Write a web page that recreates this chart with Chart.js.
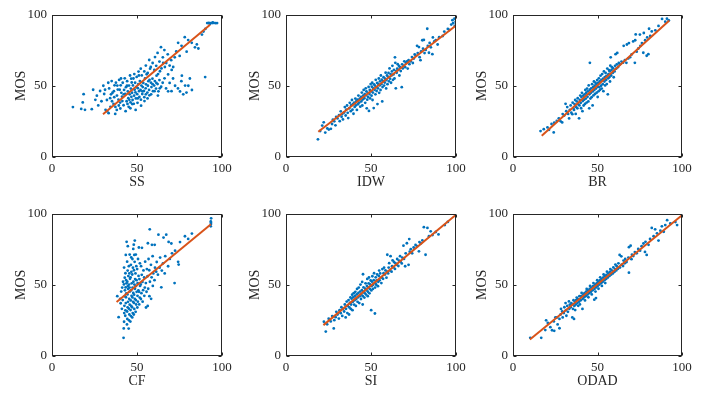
<!DOCTYPE html>
<html><head><meta charset="utf-8">
<script src="https://cdn.jsdelivr.net/npm/chart.js@4.4.1/dist/chart.umd.min.js"></script>
<style>
html,body{margin:0;padding:0;background:#fff}
body{width:704px;height:399px;overflow:hidden;position:relative}
canvas{position:absolute}
</style>
</head><body>
<script>
// ---------- data ----------
const tickValues = [0, 50, 100];
const yTitle = 'MOS';
const panelNames = ['SS', 'IDW', 'BR', 'CF', 'SI', 'ODAD'];

const ssPts = [[12.3,35.1],[17.2,33.8],[18.1,38.4],[18.6,44.2],[19.4,33.2],[23.4,33.6],[24.2,47.3],[25.5,40.2],[26.4,43.1],[27.2,36.3],[28.3,46.4],[29.1,39.2],[30.2,50.1],[30.7,44.3],[31.5,33.2],[32.4,32.1],[33.3,30.8],[33.6,48.2],[34.2,41.4],[35.1,53.4],[35.6,45.2],[36.2,37.3],[36.8,50.4],[37.3,35.2],[37.6,52.3],[38.2,43.2],[38.7,47.4],[39.1,40.3],[39.5,54.2],[40.1,38.3],[40.4,50.4],[40.8,45.1],
[41.2,42.4],[41.6,52.2],[42.1,36.4],[42.4,47.2],[42.8,55.3],[43.1,44.4],[43.5,49.1],[43.9,39.2],[44.2,53.3],[44.6,46.1],[44.9,41.4],[45.1,35.3],[45.3,50.2],[45.7,44.1],[45.9,57.3],[46.2,38.4],[46.4,48.1],[46.7,42.3],[46.9,52.4],[47.1,45.2],[47.4,40.1],[47.6,50.3],[47.9,55.2],[48.1,37.4],[48.3,43.1],[48.6,47.3],[48.9,52.2],[49.1,45.4],[49.3,41.2],[49.6,49.1],[49.8,56.3],[50.1,44.2],[50.3,38.1],[50.5,48.4],[50.8,51.2],[50.9,60.1],[51.2,46.3],[51.4,42.2],[51.7,53.4],[52.1,47.1],[52.3,40.3],[52.6,50.2],[52.8,57.4],[53.1,44.3],[53.4,49.2],[53.7,52.1],[54.1,46.4],[54.3,42.1],[54.7,55.2],[55.1,48.3],[55.3,51.1],[55.7,58.2],[56.1,45.3],[56.4,50.1],[56.7,53.3],[57.1,47.2],[57.3,43.4],[57.7,62.1],[58.2,52.3],[58.5,49.2],[59.1,55.1],[59.4,46.3],[60.1,50.2],[60.5,53.4],[61.2,48.1],[61.5,57.2],[62.1,51.3],[62.6,46.2],[63.2,54.1],[63.5,60.3],[64.2,49.4],[65.1,52.2],[65.4,66.1],[66.2,55.3],[67.1,48.2],[68.3,58.1],
[31.2,47.3],[32.3,40.1],[33.1,52.2],[34.4,35.3],[34.7,44.1],[35.3,39.2],[36.4,46.3],[36.6,42.1],[37.2,30.3],[38.4,50.2],[38.1,33.1],[39.3,36.2],[39.8,47.3],[40.2,34.1],[40.6,55.2],[41.4,39.3],[42.2,44.1],[43.3,32.2],[44.4,37.3],[44.1,50.1],[45.5,40.2],[46.1,34.3],[46.6,55.1],[47.2,37.2],[48.4,58.3],[49.2,33.1],[50.4,41.2],[51.1,57.3],[52.4,36.1],[53.2,46.2],[54.4,39.3],[55.2,44.1],[56.2,41.2],[57.4,54.3],[58.3,44.1],[59.2,51.2],[60.3,46.3],[61.4,52.1],[62.3,43.2],[63.4,48.3],
[52.2,62.1],[54.3,60.2],[55.2,64.3],[56.3,59.1],[57.2,68.2],[58.1,63.3],[59.2,66.1],[60.2,61.2],[60.6,70.3],[61.3,64.1],[62.1,73.2],[62.4,58.3],[63.2,67.1],[64.1,77.2],[64.4,62.3],[65.2,70.1],[66.1,75.2],[66.4,63.3],[67.2,66.1],[68.1,72.2],[69.2,64.3],[70.1,68.1],[70.4,61.2],[71.3,63.3],[72.2,70.1],[73.1,74.2],[74.2,80.3],[75.1,71.1],[76.2,78.2],[78.1,84.3],[79.2,74.1],[80.1,82.2],[82.2,80.3],[84.1,77.1],[85.2,79.2],[86.1,76.3],[88.2,86.1],[89.1,88.2],[90.2,90.1],
[68.3,46.2],[69.2,52.1],[70.3,46.3],[71.2,55.2],[72.4,50.1],[74.1,48.2],[75.3,46.1],[76.1,53.3],[76.4,57.2],[77.2,44.1],[78.3,50.2],[79.1,45.3],[80.2,50.1],[81.1,55.2],[82.3,47.1],[90.1,56.2],
[91.3,94.2],[92.2,94.3],[93.1,94.1],[94.2,94.2],[95.1,94.3],[96.2,94.1],[97.1,94.2],[92.8,93.6],[94.5,94.7]];

const idwPts = [[18.8,12.4],[20.1,18.3],[21.3,22.1],[22.2,24.4],[23.1,17.2],[24.3,20.1],[25.2,19.3],[26.4,19.8],[27.1,23.2],[27.6,26.3],[28.4,25.1],[29.1,22.3],[29.5,28.2],[30.3,27.1],[31.2,29.4],[31.6,25.2],[32.2,32.1],[32.7,28.3],[33.1,30.2],[33.5,26.4],[34.2,31.3],[34.6,35.1],[35.1,29.2],[35.4,33.3],[35.9,36.2],[36.3,31.1],[36.6,27.4],[37.2,34.3],[37.5,38.1],[38.1,32.2],[38.4,36.4],[38.8,40.1],[39.1,33.3],[39.4,37.2],[39.7,30.4],[40.1,38.3],[40.4,35.2],[40.8,41.1],[41.1,36.3],[41.4,39.2],[41.7,33.1],[42.1,40.4],[42.3,37.1],[42.6,43.2],[43.1,38.3],[43.4,41.1],[43.7,35.4],[44.1,42.2],[44.3,39.1],[44.6,45.3],[44.9,36.2],[45.1,40.4],[45.4,43.1],[45.7,47.2],[46.1,41.3],[46.3,44.2],[46.6,38.1],[46.9,48.3],[47.1,43.4],[47.3,46.1],[47.5,34.2],[47.8,40.3],[48.1,45.1],[48.3,42.2],[48.6,49.3],[48.8,32.4],[49.1,44.3],[49.3,47.1],[49.5,41.2],[49.8,51.3],[50.1,46.2],[50.3,43.1],[50.5,49.4],[50.7,52.2],[50.9,40.1],[51.1,45.3],[51.4,48.2],[51.6,34.4],[51.8,51.1],[52.1,47.3],[52.3,50.2],[52.6,44.1],[52.8,54.3],[53.1,49.2],[53.3,46.4],[53.6,52.1],[53.8,37.2],[54.1,48.3],[54.3,51.4],[54.6,55.2],[54.8,45.1],[55.1,50.3],[55.3,53.2],[55.6,47.1],[55.8,57.3],[56.1,51.2],[56.3,54.4],[56.6,39.1],[56.8,49.2],[57.1,53.3],[57.4,56.1],[57.7,50.2],[58.1,52.4],[58.3,55.1],[58.6,59.3],[58.9,48.2],[59.1,54.1],[59.4,57.3],[59.7,51.2],[60.1,56.4],[60.3,59.1],[60.6,53.2],[60.9,62.3],[61.2,55.1],[61.5,58.3],[61.8,52.2],[62.1,57.4],[62.3,60.2],[62.6,64.1],[62.9,54.3],[63.2,58.1],[63.5,61.3],[63.8,55.2],[64.1,70.1],[64.3,66.2],[64.6,48.3],[64.8,60.4],[65.1,59.2],[65.4,62.1],[65.7,65.3],[66.1,61.2],[66.4,64.1],[66.7,57.3],[67.1,63.2],[67.5,60.4],[68.1,49.1],[68.3,65.2],[68.7,62.3],[69.2,64.1],[69.6,67.3],[70.1,63.2],[70.5,66.1],[71.2,67.3],[71.6,62.2],[72.1,68.1],[72.6,65.3],[73.3,67.2],[74.1,70.3],[74.6,66.1],[75.2,69.2],[75.7,72.1],[76.3,71.3],[77.1,78.2],[77.5,73.1],[78.2,77.3],[78.6,70.2],[79.1,68.1],[79.5,74.3],[80.2,82.1],[80.6,76.2],[81.1,82.3],[81.5,73.1],[82.2,75.3],[83.1,90.2],[83.4,78.1],[84.1,73.3],[84.5,80.2],[85.2,77.1],[86.1,72.3],[86.4,84.1],[87.2,81.3],[88.1,82.2],[89.2,79.1],[90.1,84.3],[92.2,85.1],[93.1,88.2],[95.2,90.1],[96.1,89.3],[97.2,93.1],[97.9,96.2],[98.3,94.1],[99.1,97.3],[99.3,92.2],[99.8,95.1]];

const brPts = [[16.3,18.2],[18.2,19.6],[20.4,20.8],[21.3,19.1],[22.8,23.2],[24.1,17.3],[24.4,24.1],[25.9,25.3],[27.1,27.2],[28.2,25.1],[29.1,24.3],[29.4,30.2],[30.3,29.1],[31.1,37.4],[31.5,32.2],[32.1,35.1],[32.6,30.3],[33.2,27.1],[33.6,33.2],[34.1,36.3],[34.5,31.2],[35.1,30.1],[35.3,38.2],[35.7,34.3],[36.1,33.1],[36.4,37.2],[36.8,40.1],[37.1,30.3],[37.4,35.2],[37.7,39.1],[38.1,34.2],[38.3,41.3],[38.6,37.1],[39.1,27.2],[39.3,36.3],[39.5,40.1],[39.8,43.2],[40.1,38.1],[40.3,34.3],[40.5,42.2],[40.8,45.1],[41.1,32.2],[41.3,39.3],[41.6,43.1],[41.8,36.2],[42.1,40.3],[42.3,44.1],[42.6,37.3],[42.8,47.2],[43.1,41.1],[43.3,45.2],[43.6,38.3],[43.8,48.1],[44.1,42.3],[44.3,46.2],[44.6,39.1],[44.8,50.3],[45.1,34.2],[45.2,44.1],[45.4,47.3],[45.5,66.2],[45.8,41.1],[46.1,45.2],[46.3,48.3],[46.5,42.1],[46.8,51.2],[47.1,36.3],[47.2,46.1],[47.4,49.2],[47.6,43.3],[47.9,53.1],[48.1,47.2],[48.3,50.1],[48.5,44.3],[48.8,52.2],[49.1,48.1],[49.3,51.3],[49.5,45.2],[49.8,54.1],[50.1,42.2],[50.2,49.3],[50.4,52.1],[50.6,46.2],[50.8,55.3],[51.1,49.2],[51.3,53.1],[51.5,47.3],[51.8,57.2],[52.1,50.1],[52.3,54.2],[52.5,48.1],[52.8,58.3],[53.1,51.2],[53.3,55.1],[53.5,46.3],[53.8,60.2],[54.1,53.1],[54.3,56.2],[54.5,50.3],[54.8,59.1],[55.1,54.2],[55.3,57.1],[55.5,51.3],[55.8,62.2],[56.1,44.1],[56.3,55.3],[56.5,58.2],[56.8,61.1],[57.1,56.2],[57.2,60.3],[57.4,53.1],[57.6,64.2],[57.8,70.1],[58.1,57.3],[58.3,61.2],[58.6,63.1],[59.1,59.2],[59.3,62.3],[59.6,56.1],[60.1,60.2],[60.4,64.1],[60.7,72.3],[61.1,62.2],[61.4,65.1],[61.7,73.2],[62.2,63.3],[62.6,66.1],[63.3,65.2],[64.2,67.1],[65.1,66.3],[65.5,78.2],[66.2,68.1],[67.1,66.2],[67.4,79.1],[68.2,69.3],[68.6,80.1],[69.3,70.2],[70.2,72.1],[71.1,81.3],[72.1,66.2],[72.3,82.1],[72.6,86.2],[73.2,74.1],[74.2,76.3],[75.1,86.1],[75.4,78.2],[76.3,80.1],[77.1,73.3],[77.4,87.2],[78.2,82.1],[79.1,71.2],[79.4,84.1],[80.1,72.3],[80.5,90.2],[81.2,85.1],[82.1,88.3],[84.2,89.1],[86.1,92.2],[88.2,97.1],[90.1,95.2],[91.1,97.3],[92.2,96.1]];

const cfPts = [[38.4,42.1],[39.2,27.3],[40.1,40.2],[40.4,37.1],[40.7,45.3],[41.1,33.2],[41.3,48.1],[41.6,39.3],[41.8,52.2],[42.1,12.8],[42.2,19.4],[42.4,24.1],[42.5,30.2],[42.6,35.3],[42.7,42.1],[42.9,46.2],[42.3,50.3],[42.8,55.1],[42.4,62.2],[43.1,28.3],[43.2,32.1],[43.4,37.2],[43.5,41.3],[43.7,44.1],[43.3,48.2],[43.8,51.1],[43.6,53.3],[43.2,58.2],[43.4,71.1],[43.9,80.3],[44.1,22.2],[44.3,26.1],[44.2,31.3],[44.5,34.2],[44.7,38.1],[44.4,43.3],[44.8,47.2],[44.6,49.1],[44.3,52.3],[44.9,56.2],[44.5,60.1],[44.2,66.3],[44.6,77.2],[45.1,19.3],[45.3,25.1],[45.5,29.2],[45.2,33.3],[45.7,36.1],[45.4,40.2],[45.8,45.3],[45.6,48.1],[45.3,50.2],[45.9,54.3],[45.5,58.1],[45.2,63.2],[45.7,71.3],[46.1,24.2],[46.4,28.1],[46.2,32.3],[46.6,35.2],[46.3,39.1],[46.8,42.3],[46.5,46.2],[46.9,51.1],[46.2,55.3],[46.7,59.2],[46.4,64.1],[46.6,69.3],[47.2,27.1],[47.5,30.2],[47.1,34.3],[47.7,38.1],[47.3,41.2],[47.8,44.3],[47.4,48.1],[47.9,52.2],[47.2,57.3],[47.6,62.1],[47.3,68.2],[47.8,75.3],[48.1,29.2],[48.4,33.1],[48.2,37.3],[48.7,40.2],[48.3,43.1],[48.8,47.3],[48.5,50.2],[48.9,54.1],[48.2,60.3],[48.6,66.2],[48.4,71.1],[48.1,78.3],[48.7,81.2],[49.2,31.1],[49.5,36.2],[49.3,39.3],[49.8,45.1],[49.4,49.2],[49.7,53.3],[49.1,58.1],[49.6,63.2],[49.3,71.3],[50.2,34.1],[50.5,38.2],[50.3,42.3],[50.8,46.1],[50.4,51.2],[50.9,56.3],[50.1,61.1],[50.6,68.2],[51.3,36.3],[51.6,41.1],[51.2,45.2],[51.8,49.3],[51.4,54.1],[51.7,65.2],[51.1,76.3],[52.3,40.1],[52.6,44.2],[52.2,50.3],[52.8,57.1],[52.4,63.2],[52.9,76.1],[53.3,38.2],[53.6,46.3],[53.2,52.1],[53.8,60.2],[54.3,42.3],[54.6,48.1],[54.2,55.2],[54.8,66.3],[55.3,34.1],[55.6,45.2],[55.2,51.3],[55.8,61.1],[56.3,35.2],[56.6,47.3],[56.2,56.1],[56.8,68.2],[56.4,79.3],[57.3,42.1],[57.6,52.2],[57.2,60.3],[57.5,89.1],[58.3,40.2],[58.6,55.3],[58.2,64.1],[58.8,78.2],[59.3,49.3],[59.6,58.1],[59.2,70.2],[60.3,53.3],[60.6,62.1],[60.4,78.2],[61.3,59.3],[61.6,66.1],[62.3,57.2],[62.6,85.3],[63.3,62.1],[63.6,69.2],[64.3,48.3],[64.6,60.1],[65.3,65.2],[65.6,83.3],[66.3,58.1],[66.6,70.2],[67.2,85.3],[68.3,63.1],[68.6,80.2],[69.3,68.3],[70.2,79.1],[70.6,72.2],[72.1,51.3],[72.4,74.1],[74.2,66.2],[74.5,64.3],[75.3,80.1],[78.2,84.2],[80.1,82.3],[82.3,86.1],[93.4,91.2],[93.5,92.8],[93.4,94.6],[93.6,96.8],[93.5,93.7]];

const siPts = [[22.3,24.1],[23.4,17.2],[24.2,22.3],[25.1,26.2],[26.3,24.3],[27.2,28.1],[28.1,19.4],[28.4,25.2],[29.2,27.3],[29.6,31.1],[30.3,29.2],[31.1,26.3],[31.5,32.2],[32.2,30.1],[32.6,34.3],[33.1,28.2],[33.5,33.1],[34.2,31.3],[34.6,36.2],[35.1,27.1],[35.3,33.2],[35.7,38.3],[36.1,30.2],[36.4,35.1],[36.8,39.3],[37.1,29.2],[37.3,34.1],[37.6,37.3],[37.9,41.2],[38.1,33.1],[38.3,36.2],[38.6,40.3],[38.9,43.1],[39.1,32.2],[39.3,38.1],[39.6,41.3],[39.8,44.2],[40.1,36.1],[40.3,39.2],[40.6,42.3],[40.8,45.1],[41.1,35.2],[41.3,40.1],[41.6,43.3],[41.8,47.2],[42.1,38.1],[42.3,41.2],[42.6,44.3],[42.8,48.1],[43.1,37.2],[43.3,42.1],[43.6,45.3],[43.8,50.2],[44.1,40.1],[44.3,43.2],[44.6,46.3],[44.8,52.1],[45.1,36.2],[45.2,42.1],[45.4,45.3],[45.6,48.2],[45.3,57.5],[46.1,41.1],[46.3,44.2],[46.6,47.3],[46.8,51.1],[47.1,43.2],[47.3,46.1],[47.6,49.3],[47.8,54.2],[48.1,42.1],[48.2,45.2],[48.4,48.3],[48.6,51.1],[48.8,55.2],[49.1,44.1],[49.3,47.2],[49.5,50.3],[49.8,53.1],[50.1,32.2],[50.2,46.1],[50.4,49.2],[50.6,52.3],[50.8,56.1],[51.1,47.2],[51.3,50.1],[51.6,53.3],[51.8,58.2],[52.3,29.9],[52.4,48.1],[52.6,51.2],[52.8,55.3],[53.1,50.1],[53.3,53.2],[53.6,57.3],[54.1,49.1],[54.3,52.2],[54.6,56.3],[54.8,60.1],[55.1,53.2],[55.4,58.1],[56.1,51.3],[56.4,55.2],[56.7,61.1],[57.1,54.3],[57.4,58.2],[57.7,62.1],[58.2,57.3],[58.5,60.2],[59.1,55.1],[59.4,59.3],[59.6,71.2],[60.1,58.1],[60.4,62.2],[60.7,65.3],[61.2,60.1],[61.5,70.2],[62.1,59.3],[62.4,63.1],[62.7,67.2],[63.2,62.3],[63.5,66.1],[64.1,61.2],[64.4,65.3],[65.1,64.1],[65.4,68.2],[66.1,63.3],[66.4,67.1],[67.1,70.2],[67.4,66.3],[68.1,65.1],[68.4,69.2],[69.1,77.6],[69.4,68.3],[70.1,63.1],[70.4,72.2],[71.1,79.3],[72.1,64.1],[72.5,82.2],[72.8,73.3],[73.4,75.1],[74.2,72.2],[75.1,76.3],[76.2,78.1],[77.1,77.2],[78.2,73.6],[78.5,80.1],[79.3,79.2],[80.2,81.3],[81.1,90.6],[82.1,71.2],[83.2,90.1],[84.1,84.2],[85.1,87.7],[86.2,85.1],[88.1,87.2],[89.7,85.5],[93.4,92.1],[95.2,94.3]];

const odadPts = [[10.2,12.8],[16.7,12.8],[19.1,18.2],[19.6,25.1],[20.6,23.2],[22.1,20.3],[23.1,18.1],[24.4,17.7],[24.2,24.3],[25.1,27.2],[26.1,27.1],[26.4,22.2],[27.5,26.1],[27.5,19.5],[28.4,33.1],[28.2,29.2],[29.1,31.3],[29.4,27.1],[30.1,30.2],[30.4,34.3],[31.1,37.2],[31.3,32.1],[31.6,28.3],[32.1,35.2],[32.5,31.1],[33.1,38.4],[33.3,33.2],[33.6,36.1],[34.1,34.3],[34.5,37.2],[35.1,27.1],[35.2,36.3],[35.5,33.1],[35.8,39.2],[36.1,26.1],[36.3,35.2],[36.6,38.1],[36.8,32.3],[37.1,36.2],[37.4,39.3],[37.7,41.1],[38.1,37.2],[38.3,40.1],[38.6,35.3],[39.1,38.2],[39.3,42.1],[39.6,36.3],[40.1,39.2],[40.3,42.1],[40.6,44.3],[41.1,33.1],[41.3,40.2],[41.6,43.1],[42.1,41.3],[42.3,44.2],[42.6,39.1],[43.1,42.2],[43.3,45.3],[43.6,47.1],[44.1,43.2],[44.3,46.1],[44.6,41.3],[45.1,44.2],[45.3,47.1],[45.6,49.3],[46.1,45.2],[46.3,48.1],[46.6,43.3],[47.1,46.2],[47.3,49.1],[47.6,51.3],[48.1,39.6],[48.2,47.2],[48.5,50.1],[48.8,45.3],[49.1,40.7],[49.2,48.2],[49.5,51.1],[49.8,53.3],[50.1,49.2],[50.3,52.1],[50.6,47.3],[51.1,50.2],[51.3,53.1],[51.6,55.3],[52.1,51.2],[52.3,54.1],[52.6,49.3],[53.1,52.2],[53.3,55.1],[53.6,57.3],[54.1,53.2],[54.3,56.1],[54.6,51.3],[55.1,54.2],[55.3,57.1],[55.6,59.3],[56.1,55.2],[56.4,58.1],[57.1,56.3],[57.3,59.2],[57.6,61.1],[58.1,57.3],[58.4,60.2],[59.1,58.1],[59.4,62.3],[60.1,59.2],[60.3,61.1],[60.6,64.3],[61.1,60.2],[61.4,63.1],[62.1,61.3],[62.4,65.2],[63.1,71.1],[63.3,62.2],[64.1,70.1],[64.3,64.2],[65.1,63.3],[65.4,67.1],[66.1,65.2],[66.4,68.3],[67.2,66.1],[68.6,76.5],[68.3,69.2],[69.6,77.6],[68.6,58.6],[70.1,68.1],[70.4,71.2],[71.2,70.3],[72.1,73.1],[73.2,72.2],[74.1,75.3],[75.2,74.1],[76.1,77.2],[77.2,79.1],[78.1,73.2],[78.4,80.3],[79.1,71.1],[80.2,78.2],[81.1,82.3],[82.1,90.1],[83.2,84.2],[84.1,89.1],[85.2,86.3],[86.1,81.2],[87.2,88.1],[88.1,91.2],[89.2,87.3],[90.1,92.1],[91.2,95.5],[93.1,93.2],[96.1,94.2],[97.1,92.1]];

const ssFit = [[30,30],[93,93]];
const idwFit = [[19,17.7],[100,92.5]];
const brFit = [[17,15],[92.5,96]];
const cfFit = [[38,38],[93.5,92.6]];
const siFit = [[22,21.7],[100,99.3]];
const odadFit = [[10,11.6],[100,99]];

const panelPoints = [ssPts, idwPts, brPts, cfPts, siPts, odadPts];
const panelFits = [ssFit, idwFit, brFit, cfFit, siFit, odadFit];

// ---------- layout / style ----------
const plotAreas = [[52,10,222,157],[286,10,456,157],[513,10,682,157],[52,209,222,356],[286,209,456,356],[513,209,682,356]];
const AX_W = 50, AX_H = 40, PAD_T = 8, PAD_R = 14;
const FONT = '"Liberation Serif", "Times New Roman", serif';
const TXT = '#262626';
const DOT = '#0072BD';
const FIT = '#D95319';

const framePlugin = {
  id: 'frame',
  afterDatasetsDraw(chart) {
    const {ctx, chartArea: a, scales: {x, y}} = chart;
    ctx.save();
    ctx.strokeStyle = TXT;
    ctx.lineWidth = 1;
    const L = Math.round(a.left) + 0.5, R = Math.round(a.right) - 0.5;
    const T = Math.round(a.top) + 0.5, B = Math.round(a.bottom) - 0.5;
    ctx.strokeRect(L, T, R - L, B - T);
    ctx.beginPath();
    const tl = 3;
    tickValues.forEach(v => {
      const px = Math.round(x.getPixelForValue(v)) + 0.5;
      ctx.moveTo(px, B); ctx.lineTo(px, B - tl);
      ctx.moveTo(px, T); ctx.lineTo(px, T + tl);
      const py = Math.round(y.getPixelForValue(v)) + 0.5;
      ctx.moveTo(L, py); ctx.lineTo(L + tl, py);
      ctx.moveTo(R, py); ctx.lineTo(R - tl, py);
    });
    ctx.stroke();
    ctx.restore();
  }
};

function toXY(arr) { return arr.map(p => ({x: p[0], y: p[1]})); }

panelNames.forEach((name, i) => {
  const [l, t, r, b] = plotAreas[i];
  const cv = document.createElement('canvas');
  const w = (r - l) + AX_W + PAD_R;
  const h = (b - t) + PAD_T + AX_H;
  cv.width = w; cv.height = h;
  cv.style.left = (l - AX_W) + 'px';
  cv.style.top = (t - PAD_T) + 'px';
  cv.style.width = w + 'px';
  cv.style.height = h + 'px';
  document.body.appendChild(cv);

  const setTicks = s => { s.ticks = tickValues.map(v => ({value: v})); };

  new Chart(cv, {
    type: 'scatter',
    data: {
      datasets: [
        {
          data: toXY(panelFits[i]),
          showLine: true,
          borderColor: FIT,
          borderWidth: 2,
          pointRadius: 0,
          fill: false
        },
        {
          data: toXY(panelPoints[i]),
          backgroundColor: DOT,
          borderWidth: 0,
          pointRadius: 1.4,
          pointHoverRadius: 1.4
        }
      ]
    },
    options: {
      responsive: false,
      animation: false,
      devicePixelRatio: 1,
      events: [],
      layout: { padding: { left: 0, top: PAD_T, right: PAD_R, bottom: 0 } },
      plugins: { legend: { display: false }, tooltip: { enabled: false } },
      scales: {
        x: {
          type: 'linear', min: 0, max: 100,
          afterBuildTicks: setTicks,
          afterFit: s => { s.height = AX_H; },
          grid: { display: false, drawTicks: false },
          border: { display: false },
          ticks: { autoSkip: false, maxRotation: 0, padding: 4, color: TXT, font: { family: FONT, size: 13 } },
          title: { display: true, text: name, color: TXT, font: { family: FONT, size: 14 }, padding: { top: 0, bottom: 6 } }
        },
        y: {
          type: 'linear', min: 0, max: 100,
          afterBuildTicks: setTicks,
          afterFit: s => { s.width = AX_W; },
          grid: { display: false, drawTicks: false },
          border: { display: false },
          ticks: { autoSkip: false, padding: 5, color: TXT, font: { family: FONT, size: 13 } },
          title: { display: true, text: yTitle, color: TXT, font: { family: FONT, size: 14 }, padding: { top: 11, bottom: 0 } }
        }
      }
    },
    plugins: [framePlugin]
  });
});
</script>
</body></html>
